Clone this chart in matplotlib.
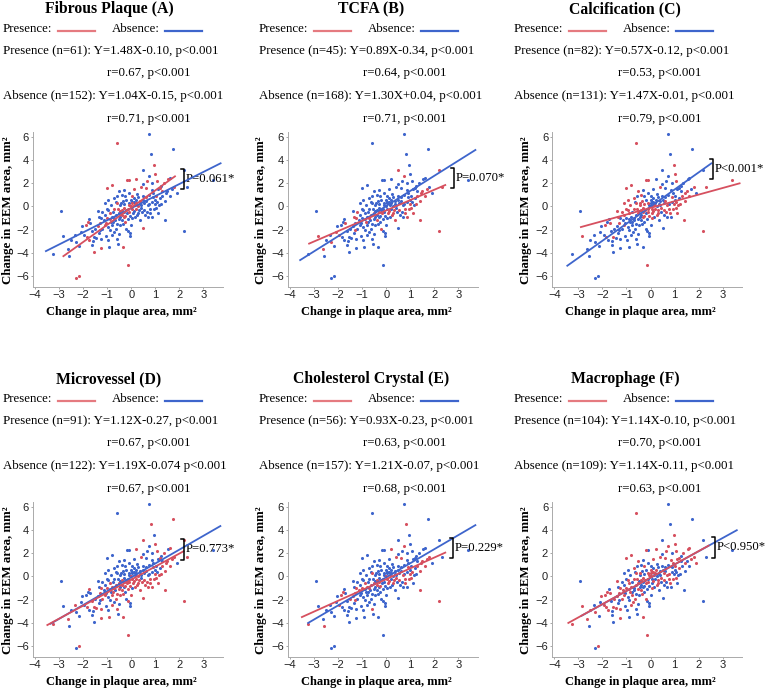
import matplotlib
matplotlib.use('Agg')
import matplotlib.pyplot as plt
from matplotlib.lines import Line2D

W, H = 766, 692

# ---------------- data ----------------
x_vals = [0.72, -0.60, 1.72, 0.82, 0.96, 0.47, 1.00, 0.74, 2.20, 2.20,
          -0.18, -0.10, 0.22, -0.80, -1.00, 0.47, 1.06, 1.62, 1.55, 3.40,
          -3.25, -2.92, -2.85, -2.57, -2.63, -2.29, -2.18, -2.30, -2.35, -1.90,
          -1.85, -1.95, -1.74, -1.70, -1.60, -1.62, -1.55, -1.50, -1.56, -1.45,
          -1.35, -1.30, -1.30, -1.27, -1.25, -1.20, -1.15, -1.10, -1.05, -1.00,
          -1.00, -0.95, -0.91, -0.90, -0.85, -0.80, -0.75, -0.70, -0.70, -0.65,
          -0.60, -0.60, -0.60, -0.55, -0.55, -0.50, -0.50, -0.45, -0.45, -0.40,
          -0.40, -0.35, -0.33, -0.30, -0.30, -0.25, -0.25, -0.20, -0.15, -0.15,
          -0.10, -0.10, -0.05, -0.05, 0.00, 0.00, 0.05, 0.05, 0.10, 0.10,
          0.15, 0.20, 0.25, 0.30, 0.30, 0.35, 0.40, 0.50, 0.50, 0.55,
          0.60, 0.60, 0.65, 0.75, 0.80, 0.85, 0.85, 0.90, 0.95, 1.00,
          1.05, 1.10, 1.15, 1.20, 1.25, 1.30, 1.35, 1.39, 1.45, 1.50,
          1.70, 1.80, 2.30, -1.40, -1.25, -1.10, -0.95, -0.85, -0.80, -0.75,
          -0.70, -0.65, -0.62, -0.58, -0.52, -0.48, -0.42, -0.38, -0.35, -0.28,
          -0.22, -0.20, -0.18, -0.12, -0.08, -0.05, 0.02, 0.08, 0.12, 0.18,
          0.22, 0.28, 0.32, 0.38, 0.42, 0.48, 0.55, 0.62, 0.68, 0.72,
          0.78, 0.88, 0.92, 0.98, 1.02, 1.08, 1.18, 1.22, 0.58, 0.45,
          -2.05, -2.10, -1.80, -1.65, -1.40, -1.35, -1.20, -1.05, -0.90, -0.88,
          -0.78, -0.68, -0.72, -0.48, -0.30, -0.15, 0.05, 0.15, 0.35, 0.70,
          -1.10, -0.95, -0.40, -0.10, 0.10, 0.25, 0.65, 0.88, 1.28, 1.12,
          -2.50, -2.15, -1.75, -0.98, -0.52, 0.02, -0.32, 1.60, 1.90, 1.42,
          0.00, -0.25, 0.40]
y_vals = [6.25, 5.50, 4.95, 4.55, 3.55, 3.10, 2.80, 2.65, 3.10, -2.10,
          2.25, 2.25, 2.35, 1.85, 1.55, 1.95, 2.15, 2.45, 2.40, 2.30,
          -4.10, -0.38, -2.50, -4.30, -3.70, -6.15, -6.00, -3.05, -2.45, -1.60,
          -2.60, -2.45, -1.10, -1.45, -3.00, -3.30, -2.60, -1.90, -3.90, -2.75,
          -0.90, -1.40, -2.00, -3.53, -2.80, -0.45, -1.20, -1.60, -2.50, -0.20,
          -1.00, -1.80, -3.50, -0.60, -1.30, -2.45, -0.50, 0.70, -1.00, -1.90,
          0.30, -1.50, -2.80, -0.20, -3.20, 1.30, -0.60, -0.90, 0.10, -0.30,
          -1.20, 0.50, -3.50, -0.50, -0.10, 0.90, -0.80, -1.90, -2.10, -5.00,
          0.30, -0.50, -2.30, -2.50, 0.00, 0.60, -0.20, 0.40, 0.70, -0.40,
          0.10, 0.30, -0.70, 0.80, -0.60, 0.20, 1.70, -1.85, 0.60, -0.30,
          1.60, 0.50, -0.50, 0.20, -0.60, -0.90, 1.40, 0.80, -0.20, 0.60,
          -0.10, 1.50, 0.10, 1.60, 1.80, 0.90, 2.00, -1.15, 1.20, 1.30,
          1.50, 1.70, 1.70, -0.40, -1.00, -0.70, -0.30, 0.10, -0.90, -1.30,
          -0.20, 0.40, -0.70, 0.90, -1.10, -0.40, 0.30, -0.70, -1.50, 0.20,
          -0.30, 0.60, -0.60, -0.20, 0.10, -0.80, 0.30, -0.60, 0.40, -0.20,
          0.60, 0.00, -0.30, 0.50, -0.10, 0.90, 0.30, 0.80, 0.10, 1.00,
          -0.20, 0.40, 1.20, 0.20, 0.90, 0.40, 0.70, 0.20, -0.70, -0.50,
          -1.70, -2.20, -1.30, -2.10, -1.70, -2.30, -1.90, -1.40, -1.10, -2.00,
          -1.60, -1.20, -2.20, -1.60, -0.90, -1.10, -1.00, -0.90, -1.20, -0.90,
          0.30, 0.60, 1.00, 1.20, 1.50, 1.10, 2.20, 2.00, 1.30, -0.60,
          -2.90, -3.40, -2.85, -2.90, -2.40, 0.90, 1.40, 0.90, 1.20, 0.50,
          -1.60, -1.30, 0.10]

presence_A = [1, 4, 6, 10, 11, 12, 13, 14, 16, 18, 25, 26, 29, 30, 38, 41, 43, 47, 50, 53,
              60, 63, 69, 72, 74, 76, 79, 81, 84, 86, 90, 91, 96, 97, 100, 113, 116, 121, 130, 135,
              137, 140, 143, 144, 146, 149, 151, 153, 157, 164, 172, 174, 177, 178, 184, 194, 196, 198, 202, 205,
              211]
presence_B = [5, 7, 8, 9, 22, 24, 27, 31, 33, 40, 42, 45, 54, 58, 66, 70, 73, 77, 89, 92,
              94, 99, 104, 105, 108, 110, 115, 117, 118, 119, 120, 122, 124, 132, 142, 147, 152, 160, 163, 167,
              171, 188, 199, 207, 209]
presence_C = [1, 4, 6, 9, 10, 11, 13, 14, 16, 19, 22, 29, 30, 33, 36, 40, 41, 45, 47, 49,
              53, 57, 60, 63, 65, 66, 68, 69, 71, 73, 74, 76, 79, 80, 81, 86, 89, 90, 92, 94,
              96, 99, 101, 102, 104, 107, 108, 110, 112, 115, 117, 118, 119, 121, 122, 123, 125, 126, 127, 130,
              136, 139, 140, 143, 145, 147, 149, 152, 154, 158, 160, 163, 165, 167, 184, 186, 190, 191, 192, 199,
              207, 209]
presence_D = [2, 3, 5, 6, 8, 9, 12, 16, 17, 20, 24, 26, 28, 30, 32, 36, 39, 41, 43, 44,
              47, 50, 52, 53, 55, 58, 59, 61, 62, 66, 69, 70, 72, 73, 76, 78, 79, 81, 84, 86,
              89, 92, 94, 96, 97, 99, 102, 104, 105, 108, 110, 112, 113, 115, 116, 117, 118, 119, 120, 121,
              122, 124, 128, 129, 132, 134, 137, 138, 142, 145, 147, 149, 151, 152, 160, 163, 167, 168, 169, 173,
              176, 180, 183, 185, 187, 188, 189, 199, 207, 209, 210]
presence_E = [3, 7, 9, 12, 20, 23, 29, 31, 37, 41, 42, 46, 50, 53, 58, 60, 62, 66, 69, 73,
              76, 84, 86, 89, 90, 94, 96, 99, 100, 104, 107, 108, 110, 115, 117, 118, 119, 120, 121, 124,
              128, 132, 137, 140, 143, 147, 152, 154, 158, 160, 163, 165, 172, 174, 207, 209]
presence_F = [1, 4, 6, 7, 10, 12, 13, 14, 16, 17, 18, 20, 22, 24, 26, 27, 29, 30, 31, 33,
              36, 37, 39, 41, 43, 44, 46, 47, 50, 53, 54, 55, 57, 59, 60, 63, 65, 66, 69, 70,
              72, 74, 75, 77, 79, 80, 81, 84, 85, 87, 89, 91, 92, 94, 96, 99, 100, 103, 104, 106,
              108, 110, 111, 113, 116, 118, 120, 121, 123, 124, 126, 128, 130, 132, 134, 136, 138, 140, 142, 144,
              146, 148, 150, 152, 154, 156, 158, 160, 162, 164, 166, 170, 172, 174, 176, 178, 180, 182, 186, 194,
              196, 200, 202, 208]
presence_sets = [presence_A, presence_B, presence_C, presence_D, presence_E, presence_F]

titles = ["Fibrous Plaque (A)", "TCFA (B)", "Calcification (C)",
          "Microvessel (D)", "Cholesterol Crystal (E)", "Macrophage (F)"]
presence_eq = ["Presence (n=61): Y=1.48X-0.10, p<0.001",
               "Presence (n=45): Y=0.89X-0.34, p<0.001",
               "Presence (n=82): Y=0.57X-0.12, p<0.001",
               "Presence (n=91): Y=1.12X-0.27, p<0.001",
               "Presence (n=56): Y=0.93X-0.23, p<0.001",
               "Presence (n=104): Y=1.14X-0.10, p<0.001"]
presence_r = ["r=0.67, p<0.001", "r=0.64, p<0.001", "r=0.53, p<0.001",
              "r=0.67, p<0.001", "r=0.63, p<0.001", "r=0.70, p<0.001"]
absence_eq = ["Absence (n=152): Y=1.04X-0.15, p<0.001",
              "Absence (n=168): Y=1.30X+0.04, p<0.001",
              "Absence (n=131): Y=1.47X-0.01, p<0.001",
              "Absence (n=122): Y=1.19X-0.074 p<0.001",
              "Absence (n=157): Y=1.21X-0.07, p<0.001",
              "Absence (n=109): Y=1.14X-0.11, p<0.001"]
absence_r = ["r=0.71, p<0.001", "r=0.71, p<0.001", "r=0.79, p<0.001",
             "r=0.67, p<0.001", "r=0.68, p<0.001", "r=0.63, p<0.001"]

pres_slope = [1.48, 0.89, 0.57, 1.12, 0.93, 1.14]
pres_icpt = [-0.10, -0.34, -0.12, -0.27, -0.23, -0.10]
abs_slope = [1.04, 1.30, 1.47, 1.19, 1.21, 1.14]
abs_icpt = [-0.15, 0.04, -0.01, -0.074, -0.07, -0.11]
pres_xrange = [(-2.85, 1.85), (-3.24, 2.49), (-2.93, 3.74), (-3.52, 2.21), (-3.54, 2.49), (-3.45, 2.45)]
abs_xrange = [(-3.58, 3.75), (-3.61, 3.74), (-3.49, 2.56), (-3.38, 3.74), (-3.28, 3.74), (-2.90, 3.62)]

p_labels = ["P=0.061*", "P=0.070*", "P<0.001*", "P=0.773*", "P=0.229*", "P<0.950*"]
bracket_x = [2.21, 2.82, 2.60, 2.21, 2.79, 2.70]
bracket_y = [(1.49, 3.22), (1.58, 3.30), (2.40, 4.11), (1.44, 3.25), (1.58, 3.30), (1.60, 3.40)]

x_ticks = [-4, -3, -2, -1, 0, 1, 2, 3]
y_ticks = [-6, -4, -2, 0, 2, 4, 6]

# ---------------- style ----------------
RED = '#d6505f'
BLUE = '#3e65cc'
RED_LEG = '#e57a80'
SERIF = ['Liberation Serif', 'DejaVu Serif']
SANS = ['Liberation Sans', 'DejaVu Sans']

fig = plt.figure(figsize=(W / 100, H / 100), dpi=100)
fig.patch.set_facecolor('white')


def fx(px):
    return px / W


def fy(py):
    return 1 - py / H


ax_left = [32.6, 287.6, 551.9]
ax_top = [131.5, 501.5]
ax_w, ax_h = 190.0, 155.2
col_off = [0, 256, 511]
title_cx = [109, 371, 625]
ylab_x = [-0.128, -0.14, -0.135]

for i in range(6):
    r, c = divmod(i, 3)
    ro = 370 * r
    co = col_off[c]
    # header texts
    fig.text(fx(title_cx[c]), fy(9 + ro), titles[i], ha='center', va='center',
             fontsize=11.3, fontweight='bold', family=SERIF)
    fig.text(fx(3 + co), fy(29 + ro), "Presence:", ha='left', va='center', fontsize=9.3, family=SERIF)
    fig.add_artist(Line2D([fx(58 + co), fx(95 + co)], [fy(31 + ro), fy(31 + ro)],
                          color=RED_LEG, lw=1.6, transform=fig.transFigure))
    fig.text(fx(112 + co), fy(29 + ro), "Absence:", ha='left', va='center', fontsize=9.3, family=SERIF)
    fig.add_artist(Line2D([fx(165 + co), fx(202 + co)], [fy(31 + ro), fy(31 + ro)],
                          color=BLUE, lw=1.6, transform=fig.transFigure))
    fig.text(fx(3 + co), fy(51 + ro), presence_eq[i], ha='left', va='center', fontsize=9.3, family=SERIF)
    fig.text(fx(107 + co), fy(73 + ro), presence_r[i], ha='left', va='center', fontsize=9.3, family=SERIF)
    fig.text(fx(3 + co), fy(96 + ro), absence_eq[i], ha='left', va='center', fontsize=9.3, family=SERIF)
    fig.text(fx(107 + co), fy(119 + ro), absence_r[i], ha='left', va='center', fontsize=9.3, family=SERIF)

    # axes
    top = ax_top[r]
    ax = fig.add_axes([fx(ax_left[c]), fy(top + ax_h), ax_w / W, ax_h / H])
    ax.set_xlim(-4.1, 3.8)
    ax.set_ylim(-6.9, 6.45)
    pres = set(presence_sets[i])
    bx = [x_vals[k] for k in range(len(x_vals)) if k not in pres]
    by = [y_vals[k] for k in range(len(y_vals)) if k not in pres]
    rx = [x_vals[k] for k in sorted(pres)]
    ry = [y_vals[k] for k in sorted(pres)]
    ax.scatter(bx, by, s=5, color=BLUE, linewidths=0, zorder=3)
    ax.scatter(rx, ry, s=5, color=RED, linewidths=0, zorder=3)

    x0, x1 = abs_xrange[i]
    ax.plot([x0, x1], [abs_slope[i] * x0 + abs_icpt[i], abs_slope[i] * x1 + abs_icpt[i]],
            color=BLUE, lw=1.3, zorder=4, solid_capstyle='butt')
    x0, x1 = pres_xrange[i]
    ax.plot([x0, x1], [pres_slope[i] * x0 + pres_icpt[i], pres_slope[i] * x1 + pres_icpt[i]],
            color=RED, lw=1.3, zorder=4, solid_capstyle='butt')

    # bracket
    bxp = bracket_x[i]
    y0, y1 = bracket_y[i]
    ax.plot([bxp - 0.13, bxp, bxp, bxp - 0.13], [y1, y1, y0, y0], color='black', lw=1.1,
            zorder=5, clip_on=False)
    ax.text(bxp + 0.05, (y0 + y1) / 2, p_labels[i], ha='left', va='center', fontsize=9.2,
            family=SERIF, clip_on=False)

    ax.set_xticks(x_ticks)
    ax.set_yticks(y_ticks)
    ax.tick_params(axis='both', length=1.5, width=0.6, color='#999999', labelsize=8,
                   labelcolor='#222222', pad=1.2)
    for lab in ax.get_xticklabels() + ax.get_yticklabels():
        lab.set_family(SANS)
    for s in ['top', 'right']:
        ax.spines[s].set_visible(False)
    for s in ['left', 'bottom']:
        ax.spines[s].set_color('#aaaaaa')
        ax.spines[s].set_linewidth(0.7)

    ax.set_ylabel("Change in EEM area, mm²", fontsize=9.3, fontweight='bold', family=SERIF)
    ax.yaxis.set_label_coords(ylab_x[c], 0.49)
    ax.yaxis.label.set_va('center')
    ax.set_xlabel("Change in plaque area, mm²", fontsize=9, fontweight='bold', family=SERIF)
    ax.xaxis.set_label_coords(0.465, -0.165)
    ax.xaxis.label.set_va('center')

fig.savefig('out.png', dpi=100, facecolor='white')
